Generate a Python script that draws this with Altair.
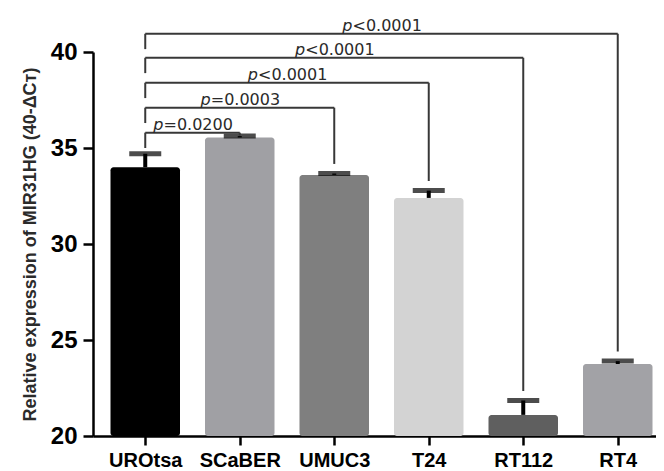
import altair as alt
import pandas as pd

# ---- data ----
cells = ["UROtsa", "SCaBER", "UMUC3", "T24", "RT112", "RT4"]
means = [34.0, 35.55, 33.6, 32.4, 21.1, 23.75]
sds = [0.7, 0.07, 0.07, 0.38, 0.75, 0.15]
colors = ["#000000", "#a0a0a4", "#7f7f7f", "#d3d3d3", "#5f5f5f", "#a2a2a6"]

targets = ["SCaBER", "UMUC3", "T24", "RT112", "RT4"]
p_rest = ["=0.0200", "=0.0003", "<0.0001", "<0.0001", "<0.0001"]
levels = [35.8, 37.1, 38.4, 39.7, 40.95]

TITLE = "Relative expression of MIR31HG (40-ΔCт)"
Y_MIN, Y_MAX = 20, 40

df = pd.DataFrame({"cell": cells, "mean": means, "sd": sds})
df["upper"] = df["mean"] + df["sd"]
df["pos"] = [i + 0.5 for i in range(len(cells))]

idx = {c: i for i, c in enumerate(cells)}
up = dict(zip(df["cell"], df["upper"]))
br = pd.DataFrame({
    "target": targets,
    "rest": p_rest,
    "lvl": levels,
})
br["x0"] = idx["UROtsa"] + 0.5
br["x1"] = [idx[t] + 0.5 for t in targets]
br["mid"] = (br["x0"] + br["x1"]) / 2
br["left_end"] = br["lvl"] - 0.8
br["right_end"] = [min(up[t] + 0.5, l - 0.15) for t, l in zip(targets, levels)]

RANGE_W = 577
yscale = alt.Scale(domain=[Y_MIN, Y_MAX], nice=False, zero=False)
yaxis = alt.Axis(values=[20, 25, 30, 35, 40], tickSize=10, tickWidth=2.5,
                 domainWidth=2.5, domainColor="black", tickColor="black",
                 labelFont="Liberation Sans", labelFontSize=24, labelFontWeight="bold",
                 labelColor="black", labelPadding=6, grid=False,
                 titleFont="Liberation Sans", titleFontSize=18, titleFontWeight="bold",
                 titleColor="#2b2b2b", titlePadding=11)

label_js = "[" + ",".join("'" + c + "'" for c in cells) + "]"
xscale = alt.Scale(domain=[0, len(cells)], range=[0, RANGE_W], nice=False, zero=False)
xaxis = alt.Axis(title=None, orient="bottom", values=list(df["pos"]),
                 labelExpr=label_js + "[floor(datum.value)]",
                 labelAngle=0, tickSize=9, tickWidth=2.5,
                 domainWidth=2.5, domainColor="black", tickColor="black",
                 labelFont="Liberation Sans", labelFontSize=20, labelFontWeight="bold",
                 labelColor="black", labelPadding=5, grid=False)


def Y(field):
    return alt.Y(field, scale=yscale, axis=yaxis, title=TITLE)


def X(field):
    return alt.X(field, scale=xscale, axis=xaxis)


base = alt.Chart(df)
bars = base.mark_bar(cornerRadius=3, size=69.5).encode(
    x=X("pos:Q"),
    y=Y("mean:Q"),
    y2=alt.datum(Y_MIN),
    color=alt.Color("cell:N", scale=alt.Scale(domain=cells, range=colors), legend=None),
)
stems = base.mark_rule(color="black", strokeWidth=4).encode(
    x=X("pos:Q"),
    y=Y("mean:Q"),
    y2="upper:Q",
)
caps = base.mark_tick(color="black", size=32, thickness=5, orient="horizontal").encode(
    x=X("pos:Q"),
    y=Y("upper:Q"),
)

bb = alt.Chart(br)
line_col = "#383838"
hlines = bb.mark_rule(color=line_col, strokeWidth=2).encode(
    x=X("x0:Q"),
    x2="x1:Q",
    y=Y("lvl:Q"),
)
lleg = bb.mark_rule(color=line_col, strokeWidth=2).encode(
    x=X("x0:Q"),
    y=Y("lvl:Q"),
    y2="left_end:Q",
)
rleg = bb.mark_rule(color=line_col, strokeWidth=2).encode(
    x=X("x1:Q"),
    y=Y("lvl:Q"),
    y2="right_end:Q",
)
ptxt = bb.mark_text(text="p", font="DejaVu Sans", fontSize=16, fontStyle="italic",
                    align="right", baseline="alphabetic", dx=-29, dy=-3,
                    color="#2a2a2a").encode(
    x=X("mid:Q"),
    y=Y("lvl:Q"),
)
rtxt = bb.mark_text(font="DejaVu Sans", fontSize=16, align="left",
                    baseline="alphabetic", dx=-29, dy=-3, color="#2a2a2a").encode(
    x=X("mid:Q"),
    y=Y("lvl:Q"),
    text="rest:N",
)

chart = alt.layer(bars, stems, caps, hlines, lleg, rleg, ptxt, rtxt).properties(
    width=563, height=384,
    autosize=alt.AutoSizeParams(type="none"),
    padding={"left": 85, "top": 44, "right": 0, "bottom": 36},
    background="white",
).configure_view(stroke=None, strokeWidth=0)

chart.save("out.html", embed_options={"renderer": "svg", "actions": False})
